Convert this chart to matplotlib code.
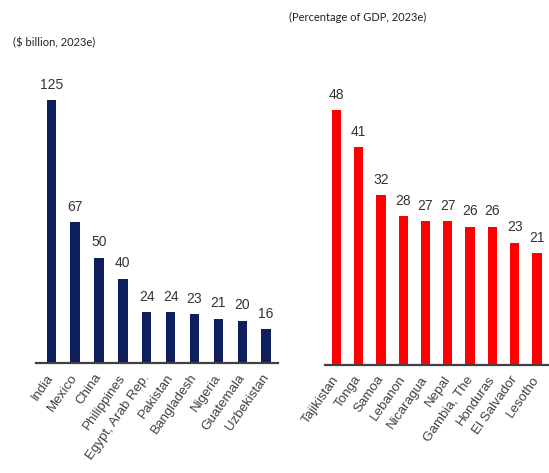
import matplotlib
matplotlib.use("Agg")
import matplotlib.pyplot as plt

left_categories = ["India", "Mexico", "China", "Philippines", "Egypt, Arab Rep.",
                   "Pakistan", "Bangladesh", "Nigeria", "Guatemala", "Uzbekistan"]
left_values = [125, 67, 50, 40, 24, 24, 23, 21, 20, 16]

right_categories = ["Tajikistan", "Tonga", "Samoa", "Lebanon", "Nicaragua",
                    "Nepal", "Gambia, The", "Honduras", "El Salvador", "Lesotho"]
right_values = [48, 41, 32, 28, 27, 27, 26, 26, 23, 21]

left_title = "($ billion, 2023e)"
right_title = "(Percentage of GDP, 2023e)"

label_font = ["Liberation Sans", "DejaVu Sans"]
value_font = ["Liberation Sans", "DejaVu Sans"]
title_font = ["Lato", "DejaVu Sans"]

W, H = 549, 473
fig = plt.figure(figsize=(W / 100, H / 100), dpi=100)


def px_axes(x0, x1, ybase, ytop):
    return fig.add_axes([x0 / W, 1 - ybase / H, (x1 - x0) / W, (ybase - ytop) / H])


def draw(ax, cats, vals, color, bar_w, xlim, ymax):
    x = list(range(len(cats)))
    ax.bar(x, vals, width=bar_w, color=color, zorder=2)
    ax.set_xlim(*xlim)
    ax.set_ylim(0, ymax)
    for s in ["top", "right", "left"]:
        ax.spines[s].set_visible(False)
    ax.spines["bottom"].set_color("#404040")
    ax.spines["bottom"].set_linewidth(1.6)
    ax.set_yticks([])
    ax.set_xticks(x)
    ax.set_xticklabels(cats, rotation=55, ha="right", va="center",
                       rotation_mode="anchor", family=label_font,
                       fontsize=9.6, color="#404040")
    ax.tick_params(axis="x", length=0, pad=9)
    for xi, v in zip(x, vals):
        ax.annotate(f"{v}", (xi, v), xytext=(0, 6), textcoords="offset points",
                    ha="center", va="bottom", family=value_font,
                    fontsize=10, color="#333333")


axL = px_axes(36, 278, 362.7, 60)
draw(axL, left_categories, left_values, "#0D1F5C", 0.39, (-0.64, 9.5), 302.7 / 2.10)

axR = px_axes(325, 549, 364.5, 60)
draw(axR, right_categories, right_values, "#FF0000", 0.42, (-0.507, 9.54), 304.5 / 5.30)

fig.text(13 / W, 1 - 43 / H, left_title, ha="left", va="center",
         family=title_font, fontsize=8, color="#222222")
fig.text(289 / W, 1 - 17 / H, right_title, ha="left", va="center",
         family=title_font, fontsize=8, color="#222222")

fig.savefig("out.png", dpi=100)
